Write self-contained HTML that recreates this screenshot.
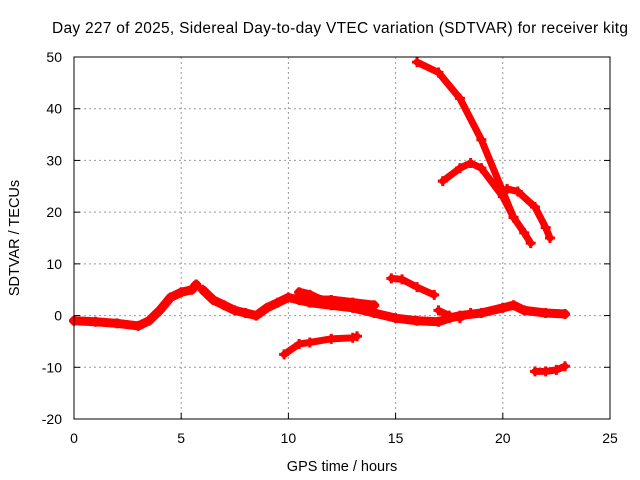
<!DOCTYPE html>
<html><head><meta charset="utf-8"><style>
body{margin:0;background:#fff}
svg{display:block;font-family:"Liberation Sans",sans-serif}
</style></head><body>
<svg id="c" width="640" height="480">
<text x="340" y="33" font-size="15.5" text-anchor="middle" textLength="576">Day 227 of 2025, Sidereal Day-to-day VTEC variation (SDTVAR) for receiver kitg</text>
<text x="342" y="471" font-size="14.5" text-anchor="middle">GPS time / hours</text>
<text transform="translate(19,238) rotate(-90)" font-size="14.5" text-anchor="middle">SDTVAR / TECUs</text>
<g id="grid"></g>
<g id="ticks"></g>
<g id="series"></g>
<rect x="74" y="57" width="536" height="362" fill="none" stroke="#000" stroke-width="1"/>
</svg>
<script>
const xTicks=[0,5,10,15,20,25];
const yTicks=[-20,-10,0,10,20,30,40,50];
const s1=[[0,-1],[1,-1.2],[2,-1.5],[3,-2],[3.5,-1],[4,1],[4.5,3.5],[5,4.5],[5.5,5],[5.7,6]];
const s2=[[6,5],[6.5,3],[7,2],[7.5,1],[8,0.5],[8.5,0],[9,1.5],[9.5,2.5],[10,3.5],[10.5,3],[11,2.5],[12,2],[13,1.5],[14,0.5],[15,-0.5],[16,-1],[17,-1.2],[17.5,-0.5],[18,0],[19,0.5],[20,1.5],[20.5,2],[21,1],[22,0.5],[22.9,0.3]];
const s3=[[10.5,4.5],[11,4],[11.5,3],[12,3],[13,2.5],[14,2]];
const s4=[[9.8,-7.5],[10.5,-5.5],[11,-5.2],[12,-4.5],[13,-4.3],[13.2,-4]];
const s5=[[14.8,7.2],[15.3,7],[16,5.5],[16.8,4]];
const s6=[[16,49],[17,47],[18,42],[19,34],[20,24],[20.5,19],[21,16],[21.3,14]];
const s7=[[17.2,26],[18,28.5],[18.5,29.5],[19,28.5],[20,23],[20.5,19]];
const s8=[[20.2,24.5],[20.7,24],[21.5,21],[22,17],[22.2,15]];
const s9=[[21.5,-10.8],[22,-10.8],[22.5,-10.5],[22.9,-9.8]];
const s10=[[17,1],[17.5,0],[18,-0.5],[18.5,0.5]];
const allSeries=[s1,s2,s3,s4,s5,s6,s7,s8,s9,s10];
const X=v=>74+(v-0)*(536/25);
const Y=v=>419-(v+20)*(362/70);
const NS="http://www.w3.org/2000/svg";
function mk(t,a,p){const e=document.createElementNS(NS,t);for(const k in a)e.setAttribute(k,a[k]);p.appendChild(e);return e;}
const grid=document.getElementById('grid'),ticks=document.getElementById('ticks'),ser=document.getElementById('series');
xTicks.forEach(t=>{
  if(t>0&&t<25){const l=mk('line',{x1:X(t),x2:X(t),y1:57,y2:419,stroke:'#999','stroke-dasharray':'2,3'},grid);
  
  }
  mk('line',{x1:X(t),x2:X(t),y1:419,y2:413,stroke:'#000'},ticks);
  const tx=mk('text',{x:X(t),y:443,'font-size':14,'text-anchor':'middle'},ticks);tx.textContent=t;
  
  
});
yTicks.forEach(t=>{
  if(t>-20&&t<50){const l=mk('line',{x1:74,x2:610,y1:Y(t),y2:Y(t),stroke:'#999','stroke-dasharray':'2,3'},grid);
  
  }
  mk('line',{x1:74,x2:80,y1:Y(t),y2:Y(t),stroke:'#000'},ticks);
  mk('line',{x1:610,x2:604,y1:Y(t),y2:Y(t),stroke:'#000'},ticks);
  const tx=mk('text',{x:62,y:Y(t)+5,'font-size':14,'text-anchor':'end'},ticks);tx.textContent=t;
  
  
});
allSeries.forEach((s,i)=>{
  const pl=mk('polyline',{points:s.map(p=>X(p[0])+','+Y(p[1])).join(' '),fill:'none',stroke:'#f00','stroke-width':(i<3?9:7),'stroke-linejoin':'round','stroke-linecap':'round'},ser);
  
  
  s.forEach(p=>{
    const m=mk('path',{d:`M${X(p[0])-5},${Y(p[1])}h10M${X(p[0])},${Y(p[1])-5}v10`,stroke:'#f00','stroke-width':3},ser);
    
    
  });
});
</script>
</body></html>
